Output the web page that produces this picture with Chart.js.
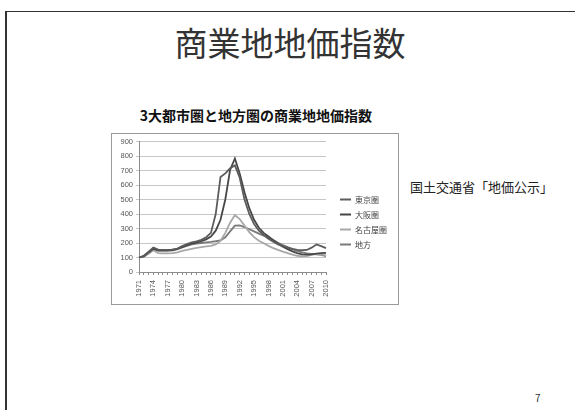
<!DOCTYPE html>
<html lang="ja">
<head>
<meta charset="utf-8">
<title>商業地地価指数</title>
<script src="https://cdn.jsdelivr.net/npm/chart.js@4.4.1/dist/chart.umd.min.js"></script>
<style>
  html, body { margin: 0; padding: 0; background: #fff; }
  body { width: 575px; height: 410px; position: relative; overflow: hidden;
         font-family: "Noto Sans CJK JP", "Noto Sans", sans-serif; }
  .slide { position: absolute; left: 5px; top: 11px; width: 620px; height: 460px;
           border-top: 1.5px solid #333; border-left: 2px solid #333; }
  .title { position: absolute; left: 5px; width: 570px; top: 22px; text-align: center;
           font-size: 33px; line-height: 40px; color: #333; }
  .subtitle { position: absolute; left: 111px; width: 290px; top: 105px; text-align: center;
              font-size: 14px; line-height: 20px; font-weight: bold; color: #111; }
  .source { position: absolute; left: 410px; top: 178px; font-size: 13px; line-height: 18px; color: #222; }
  .page { position: absolute; left: 535px; top: 391px; font-size: 10px; line-height: 14px; color: #333; }
  .chart-box { position: absolute; left: 111px; top: 133px; width: 286px; height: 170px;
               border: 1px solid #9a9a9a; }
</style>
</head>
<body>
<div class="slide"></div>
<div class="title">商業地地価指数</div>
<div class="subtitle">3大都市圏と地方圏の商業地地価指数</div>
<div class="source">国土交通省「地価公示」</div>
<div class="page">7</div>
<div class="chart-box"><canvas id="landChart"></canvas></div>

<script>
// 年次（1971〜2010）
const years = [
  1971, 1972, 1973, 1974, 1975, 1976, 1977, 1978, 1979, 1980,
  1981, 1982, 1983, 1984, 1985, 1986, 1987, 1988, 1989, 1990,
  1991, 1992, 1993, 1994, 1995, 1996, 1997, 1998, 1999, 2000,
  2001, 2002, 2003, 2004, 2005, 2006, 2007, 2008, 2009, 2010,
];

const tokyo = [
  100, 112, 140, 168, 155, 152, 152, 155, 162, 178,
  192, 205, 212, 222, 240, 270, 400, 655, 680, 715,
  735, 650, 500, 400, 330, 285, 255, 230, 208, 190,
  178, 168, 160, 153, 150, 152, 168, 190, 178, 165,
];

const osaka = [
  100, 108, 135, 160, 148, 148, 148, 150, 158, 172,
  185, 195, 203, 212, 225, 245, 285, 360, 500, 705,
  783, 680, 550, 440, 360, 305, 270, 245, 220, 195,
  175, 158, 142, 130, 122, 120, 122, 126, 130, 132,
];

const nagoya = [
  100, 105, 125, 150, 130, 128, 128, 130, 135, 145,
  152, 160, 167, 172, 176, 180, 190, 215, 270, 340,
  393, 365, 320, 275, 240, 215, 198, 180, 165, 152,
  140, 130, 120, 112, 108, 110, 118, 125, 122, 115,
];

const chiho = [
  100, 110, 135, 165, 150, 150, 150, 155, 160, 170,
  180, 190, 195, 200, 205, 208, 212, 218, 240, 280,
  320, 322, 310, 295, 280, 265, 250, 236, 220, 202,
  186, 172, 158, 145, 135, 128, 125, 122, 118, 110,
];

const seriesNames = ["東京圏", "大阪圏", "名古屋圏", "地方"];
const seriesColors = ["#5c5c5c", "#474747", "#a8a8a8", "#7a7a7a"];
const yTicks = [0, 100, 200, 300, 400, 500, 600, 700, 800, 900];

const tickFont = { family: "'Liberation Sans', Arial, sans-serif", size: 7.5 };

// 凡例をプロット領域から少し離す
const legendGap = {
  id: "legendGap",
  afterLayout(chart) {
    if (!chart.legend) return;
    chart.legend.left += 7;
    chart.legend.right += 7;
  },
};

const ctx = document.getElementById("landChart").getContext("2d");
new Chart(ctx, {
  type: "line",
  data: {
    labels: years,
    datasets: [tokyo, osaka, nagoya, chiho].map((values, i) => ({
      label: seriesNames[i],
      data: values,
      borderColor: seriesColors[i],
      backgroundColor: seriesColors[i],
      borderWidth: 1.8,
      pointRadius: 0,
      tension: 0,
    })),
  },
  plugins: [legendGap],
  options: {
    responsive: true,
    maintainAspectRatio: false,
    animation: false,
    layout: { padding: { top: 7, right: 8, bottom: 1, left: 0 } },
    plugins: {
      tooltip: { enabled: false },
      legend: {
        position: "right",
        labels: {
          boxWidth: 11,
          boxHeight: 2,
          padding: 7,
          color: "#444",
          font: { family: "'Noto Sans CJK JP', sans-serif", size: 8 },
          generateLabels(chart) {
            const items = Chart.defaults.plugins.legend.labels.generateLabels(chart);
            items.forEach((it) => { it.lineWidth = 0; });
            return items;
          },
        },
      },
    },
    scales: {
      x: {
        offset: false,
        grid: { drawOnChartArea: false, tickLength: 3, color: "#8c8c8c" },
        border: { color: "#8c8c8c" },
        ticks: {
          autoSkip: false,
          maxRotation: 90,
          minRotation: 90,
          padding: 5,
          color: "#555",
          font: tickFont,
          callback: (v, i) => (i % 3 === 0 ? String(years[i]) : ""),
        },
        afterFit(scale) { scale.height = 31; },
      },
      y: {
        min: 0,
        max: 900,
        afterBuildTicks(scale) { scale.ticks = yTicks.map((v) => ({ value: v })); },
        grid: { color: "#c6c6c6", tickLength: 3 },
        border: { color: "#8c8c8c" },
        ticks: { padding: 3, color: "#555", font: tickFont },
        afterFit(scale) { scale.width = 27; },
      },
    },
  },
});
</script>
</body>
</html>
